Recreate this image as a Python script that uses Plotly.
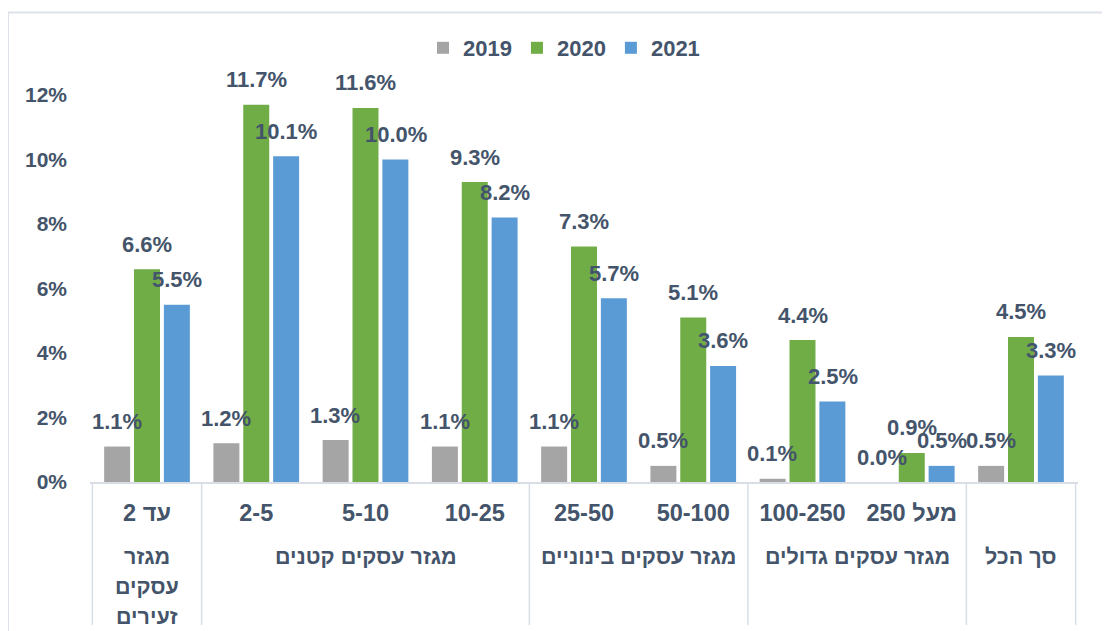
import plotly.graph_objects as go

categories = ["עד 2", "2-5", "5-10", "10-25", "25-50", "50-100", "100-250", "מעל 250", "סך הכל "]
tick_labels = ["עד 2", "2-5", "5-10", "10-25", "25-50", "50-100", "100-250", "מעל 250", ""]
groups = [["מגזר", "עסקים", "זעירים"], ["מגזר עסקים קטנים"], ["מגזר עסקים בינוניים"],
          ["מגזר עסקים גדולים"], ["סך הכל"]]
group_spans = [(0, 0), (1, 3), (4, 5), (6, 7), (8, 8)]
years = ["2019", "2020", "2021"]
v2019 = [1.1, 1.2, 1.3, 1.1, 1.1, 0.5, 0.1, 0.0, 0.5]
v2020 = [6.6, 11.7, 11.6, 9.3, 7.3, 5.1, 4.4, 0.9, 4.5]
v2021 = [5.5, 10.1, 10.0, 8.2, 5.7, 3.6, 2.5, 0.5, 3.3]
colors = ["#A5A5A5", "#70AD47", "#5B9BD5"]
yticks = [0, 2, 4, 6, 8, 10, 12]

TXT = "#44546A"
FONT = "Liberation Sans, Arial, sans-serif"
OFF = 8  # page body margin
W, H = 1110 - OFF, 631 - OFF
PL, PR, PT, PB = 90, 1078, 80, 482  # plot area in page pixels
L, T = PL - OFF, PT - OFF
R, B = W - (PR - OFF), H - (PB - OFF)
PW, PH = PR - PL, PB - PT

series = [v2019, v2020, v2021]
fig = go.Figure()
for name, vals, col in zip(years, series, colors):
    fig.add_trace(go.Bar(x=categories, y=vals, name=f"<b>{name}</b>",
                         marker=dict(color=col, line=dict(width=0))))

slot = PW / len(categories) * (1 - 0.18) / 3
annotations = []
for i, vals in enumerate(series):
    for c, v in zip(categories, vals):
        annotations.append(dict(x=c, y=v, xref="x", yref="y", text=f"<b>{v:.1f}%</b>",
                                showarrow=False, xshift=(i - 1) * slot, yshift=25, yanchor="middle",
                                font=dict(size=22, color=TXT, family=FONT)))

def py(pix):
    return (PB - pix) / PH

def px(pix):
    return (pix - PL) / PW

for lines, (a, b) in zip(groups, group_spans):
    for k, line in enumerate(lines):
        annotations.append(dict(x=(a + b) / 2, y=py(557 + 30 * k), xref="x", yref="paper",
                                text=f"<b>{line}</b>", showarrow=False, yanchor="middle", xanchor="center",
                                font=dict(size=21.5, color=TXT, family=FONT)))

shapes = []
bounds = [-0.5] + [b + 0.5 for (a, b) in group_spans]
for xb in bounds:
    shapes.append(dict(type="line", xref="x", yref="paper", x0=xb, x1=xb, y0=0, y1=py(625),
                       line=dict(color="#D9DEE6", width=1.5)))
shapes.append(dict(type="line", xref="paper", yref="paper", x0=px(8), x1=px(1120), y0=py(12.5), y1=py(12.5),
                   line=dict(color="#DDE2EA", width=2)))
shapes.append(dict(type="line", xref="paper", yref="paper", x0=px(8), x1=px(8), y0=py(12.5), y1=py(640),
                   line=dict(color="#DDE2EA", width=2)))

fig.update_layout(
    width=W, height=H,
    margin=dict(l=L, r=R, t=T, b=B, autoexpand=False),
    paper_bgcolor="white", plot_bgcolor="white",
    barmode="group", bargap=0.18, bargroupgap=0.13,
    font=dict(family=FONT, color=TXT),
    legend=dict(orientation="h", x=px(564), xanchor="center", y=py(48), yanchor="middle",
                font=dict(size=22, color=TXT, family=FONT), itemwidth=30, traceorder="normal"),
    annotations=annotations,
    shapes=shapes,
    xaxis=dict(type="category", showline=True, linecolor="#D9DEE6", linewidth=1.5, ticks="",
               tickfont=dict(size=23.5, color=TXT, family=FONT), showgrid=False, ticklabelstandoff=9,
               tickvals=categories, ticktext=[f"<b>{c}</b>" if c else "" for c in tick_labels]),
    yaxis=dict(range=[0, 12 * PH / 387], tickvals=yticks, ticktext=[f"<b>{t}%</b>" for t in yticks],
               showgrid=False, zeroline=False, showline=False, ticks="", ticklabelstandoff=22,
               tickfont=dict(size=21, color=TXT, family=FONT)),
)

fig.write_html("out.html")
